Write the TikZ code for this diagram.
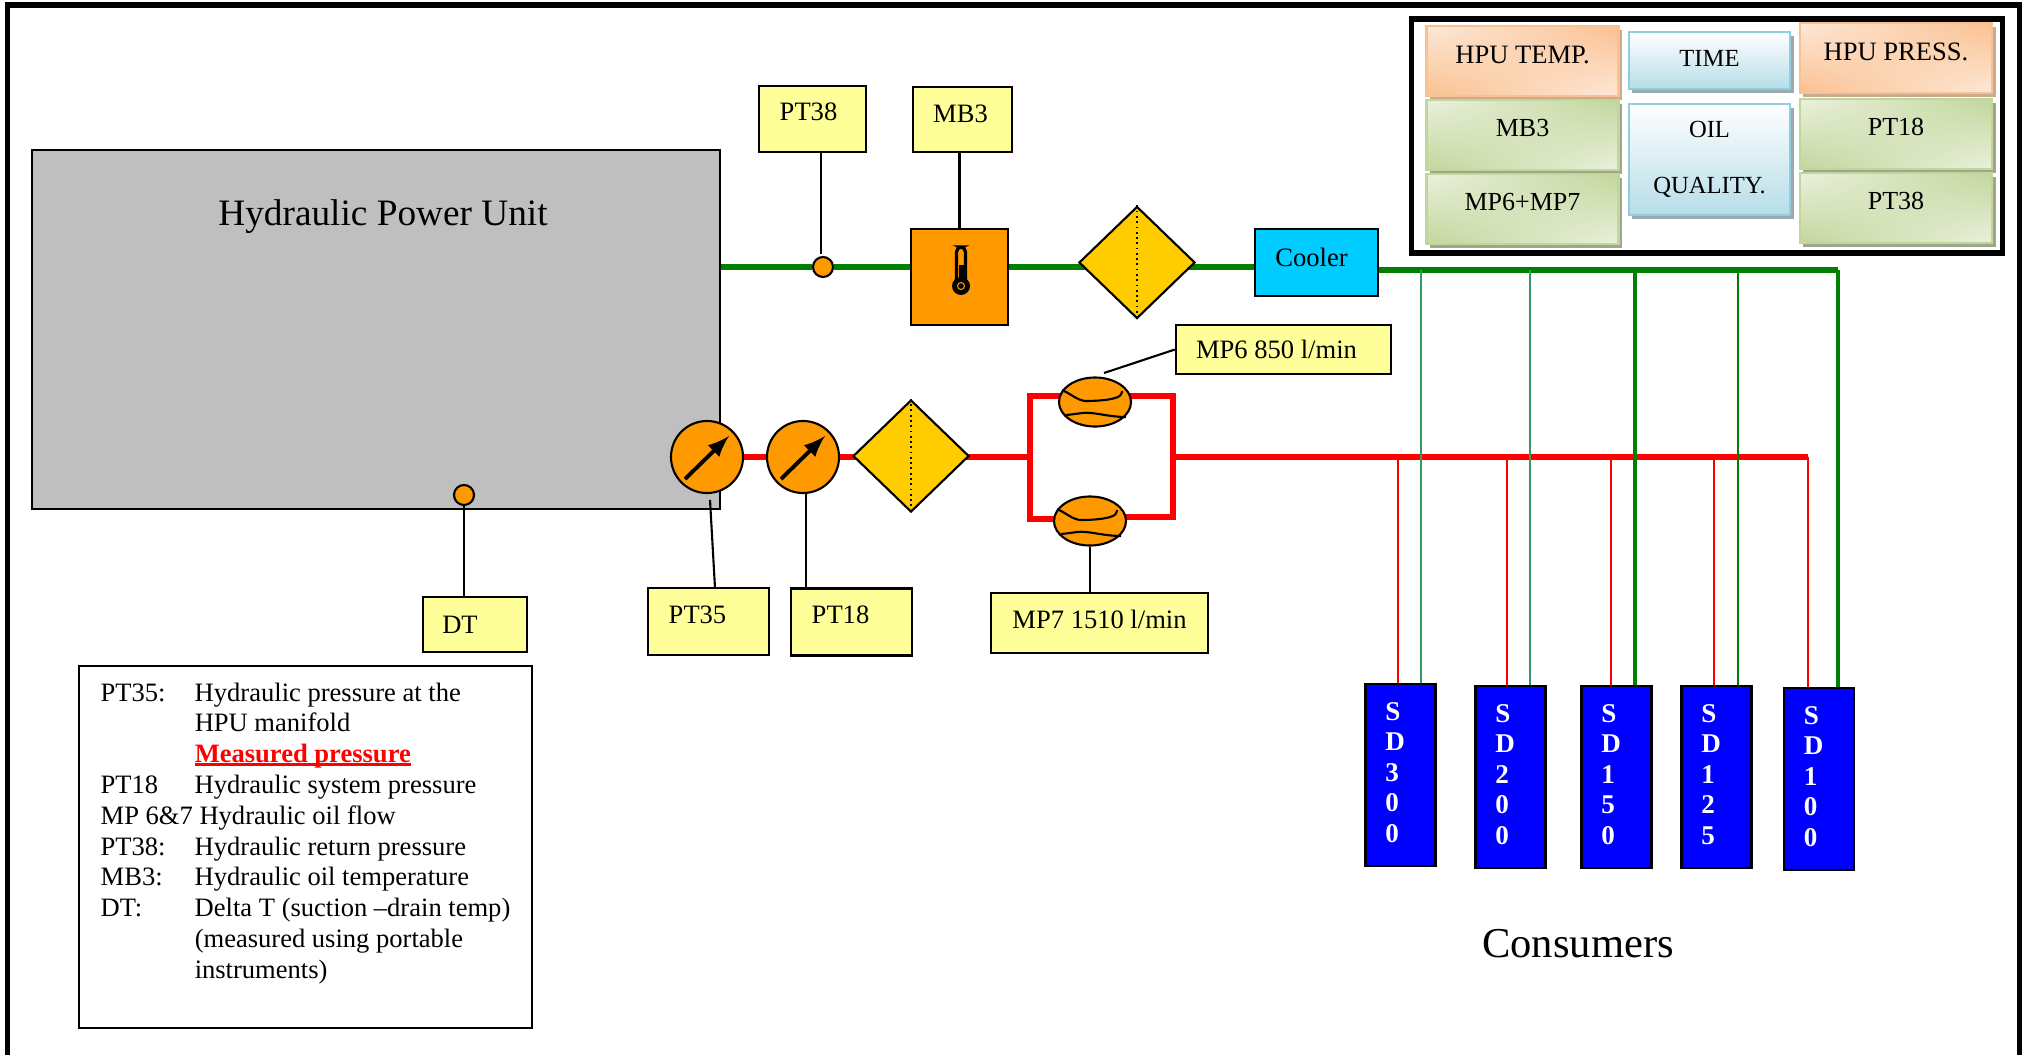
\documentclass[tikz,border=0pt]{standalone}
\usepackage{fontspec}
\setmainfont{Liberation Serif}
\usepackage{xcolor}
\usetikzlibrary{shapes,arrows,positioning,calc,shadows,shadings,backgrounds}

\definecolor{hpugray}{HTML}{BFBFBF}
\definecolor{tagyellow}{HTML}{FFFF99}
\definecolor{gaugeorange}{HTML}{FF9900}
\definecolor{filteryellow}{HTML}{FFCC00}
\definecolor{coolercyan}{HTML}{00CCFF}
\definecolor{pipegreen}{HTML}{008000}
\definecolor{dropgreen}{HTML}{339966}
\definecolor{cellorange}{HTML}{FAC090}
\definecolor{cellorangelt}{HTML}{FDE9D9}
\definecolor{cellgreen}{HTML}{C2D69B}
\definecolor{cellgreenlt}{HTML}{EAF1DD}
\definecolor{cellblue}{HTML}{B6DDE8}
\definecolor{cellblueline}{HTML}{92CDDC}

\newcommand{\legtab}[1]{\makebox[0.94cm][l]{#1}}
\newcommand{\heavyul}[1]{\setbox0\hbox{#1}\rlap{\rule[-0.9pt]{\wd0}{0.8pt}}\box0}
\newcommand{\sdpad}{\rule[-0.05cm]{0pt}{0pt}\hspace*{0.17cm}}

\tikzset{
  every node/.style={font=\fontsize{7.55}{9}\selectfont},
  tagbox/.style={draw, line width=0.6pt, fill=tagyellow, inner sep=0pt},
  sdbox/.style={draw, line width=0.7pt, fill=blue, text=white, inner sep=0pt, minimum width=0.70cm, minimum height=1.82cm, align=left, font=\fontsize{7.7}{8.67}\selectfont\bfseries},
  gaugenode/.style={draw, line width=0.6pt, fill=gaugeorange, ellipse, inner sep=0pt, minimum width=0.72cm, minimum height=0.72cm},
  flownode/.style={draw, line width=0.6pt, fill=gaugeorange, ellipse, inner sep=0pt, minimum width=0.72cm, minimum height=0.49cm},
  filternode/.style={draw, line width=0.6pt, fill=filteryellow, diamond, inner sep=0pt, minimum width=1.16cm, minimum height=1.12cm},
  tapnode/.style={draw, line width=0.6pt, fill=gaugeorange, circle, inner sep=0pt, minimum size=0.20cm},
  greencell/.style={inner sep=0pt, minimum width=1.92cm, minimum height=0.70cm, draw=cellgreen, line width=0.7pt, upper left=cellgreenlt, upper right=cellgreen, lower left=cellgreen, lower right=cellgreenlt, text depth=0.14cm, font=\fontsize{7.4}{9}\selectfont, drop shadow={shadow xshift=0.035cm, shadow yshift=-0.04cm, opacity=1, fill=cellgreen!60!black!70}},
  orangecell/.style={inner sep=0pt, minimum width=1.92cm, minimum height=0.70cm, draw=cellorange, line width=0.7pt, upper left=cellorangelt, upper right=cellorange, lower left=cellorange, lower right=cellorangelt, text depth=0.12cm, drop shadow={shadow xshift=0.035cm, shadow yshift=-0.04cm, opacity=1, fill=cellorange!70!black!70}},
  bluecell/.style={inner sep=0pt, minimum width=1.61cm, draw=cellblueline, line width=0.7pt, top color=white, bottom color=cellblue, align=center, font=\fontsize{7}{9}\selectfont, drop shadow={shadow xshift=0.035cm, shadow yshift=-0.04cm, opacity=1, fill=cellblue!60!black!70}},
  mainpipe/.style={line width=1.6pt},
  droppipe/.style={line width=0.6pt},
  leader/.style={line width=0.6pt}
}

\begin{document}
\begin{tikzpicture}[x=0.01cm, y=-0.01cm]
  \useasboundingbox (0,0) rectangle (2022,1054);

  % Outer frame
  \node[draw, line width=1.6pt, inner sep=0pt, minimum width=20.11cm, minimum height=10.525cm] (frame) at (1013.5,531.75) {};

  % Hydraulic Power Unit
  \node[draw, line width=0.6pt, fill=hpugray, inner sep=0pt, minimum width=6.88cm, minimum height=3.59cm, text depth=2.34cm, font=\fontsize{10.6}{12}\selectfont] (hpu) at (376,329.5) {\hspace*{0.14cm}Hydraulic Power Unit};
  \node[tapnode] (dttap) at (464,495) {};

  % Return line
  \node[tapnode] (pt38tap) at (823,267) {};
  \node[draw, line width=0.7pt, fill=gaugeorange, inner sep=0pt, minimum width=0.97cm, minimum height=0.96cm] (thermo) at (959.5,277) {};
  \draw[line width=0.9pt, rounded corners=0.05cm] (956.5,282) -- (956.5,247) -- (965.5,247) -- (965.5,282);
  \fill (958.5,265) rectangle (963.5,285);
  \fill (961,286) circle (9);
  \draw[gaugeorange, line width=0.3pt] (961,286) circle (3.5);
  \node[filternode] (filtret) at (1137,262.5) {};
  \draw[densely dotted, line width=0.5pt] (filtret.north) -- (filtret.south);
  \node[draw, line width=0.6pt, fill=coolercyan, inner sep=0pt, minimum width=1.23cm, minimum height=0.67cm, text depth=0.10cm] (cooler) at (1316.5,262.5) {Cooler\hspace*{0.10cm}};

  % Pressure line
  \node[gaugenode] (g35) at (707,457) {};
  \node[gaugenode] (g18) at (803,457) {};
  \draw[-latex, line width=1.1pt] ($(g35)+(-22,22)$) -- ($(g35)+(22,-21)$);
  \draw[-latex, line width=1.1pt] ($(g18)+(-22,22)$) -- ($(g18)+(22,-21)$);
  \node[filternode] (filtpress) at (911,456) {};
  \draw[densely dotted, line width=0.5pt] (filtpress.north) -- (filtpress.south);

  % Flow meters
  \node[flownode] (mpa) at (1095,402) {};
  \node[flownode] (mpb) at (1090,521) {};
  \draw[line width=0.6pt] ($(mpa)+(-33,-12)$) .. controls ($(mpa)+(-24,-8)$) and ($(mpa)+(-18,-2)$) .. ($(mpa)+(-10,-1)$) .. controls ($(mpa)+(2,-1)$) and ($(mpa)+(14,-2)$) .. ($(mpa)+(20,-4)$) .. controls ($(mpa)+(25,-5)$) and ($(mpa)+(27,-8)$) .. ($(mpa)+(27,-11)$);
  \draw[line width=0.6pt] ($(mpa)+(-29,13)$) .. controls ($(mpa)+(-18,12)$) and ($(mpa)+(-10,10)$) .. ($(mpa)+(-4,11)$) .. controls ($(mpa)+(6,12)$) and ($(mpa)+(18,15)$) .. ($(mpa)+(31,15)$);
  \draw[line width=0.6pt] ($(mpb)+(-33,-12)$) .. controls ($(mpb)+(-24,-8)$) and ($(mpb)+(-18,-2)$) .. ($(mpb)+(-10,-1)$) .. controls ($(mpb)+(2,-1)$) and ($(mpb)+(14,-2)$) .. ($(mpb)+(20,-4)$) .. controls ($(mpb)+(25,-5)$) and ($(mpb)+(27,-8)$) .. ($(mpb)+(27,-11)$);
  \draw[line width=0.6pt] ($(mpb)+(-29,13)$) .. controls ($(mpb)+(-18,12)$) and ($(mpb)+(-10,10)$) .. ($(mpb)+(-4,11)$) .. controls ($(mpb)+(6,12)$) and ($(mpb)+(18,15)$) .. ($(mpb)+(31,15)$);

  % Tags
  \node[tagbox, minimum width=1.07cm, minimum height=0.66cm, text depth=0.14cm] (pt38) at (812.5,119) {PT38\hspace*{0.08cm}};
  \node[tagbox, minimum width=0.99cm, minimum height=0.65cm, text depth=0.12cm] (mb3) at (962.5,119.5) {MB3\hspace*{0.04cm}};
  \node[tagbox, minimum width=2.15cm, minimum height=0.49cm] (mp6) at (1283.5,349.5) {MP6 850 l/min\hspace*{0.14cm}};
  \node[tagbox, minimum width=1.04cm, minimum height=0.55cm] (dt) at (475,624.5) {DT\hspace*{0.30cm}};
  \node[tagbox, minimum width=1.21cm, minimum height=0.67cm, text depth=0.14cm] (pt35) at (708.5,621.5) {PT35\hspace*{0.22cm}};
  \node[tagbox, minimum width=1.21cm, minimum height=0.67cm, text depth=0.14cm] (pt18) at (851.5,622) {PT18\hspace*{0.22cm}};
  \node[tagbox, minimum width=2.17cm, minimum height=0.60cm, text depth=0.08cm] (mp7) at (1099.5,623) {MP7 1510 l/min};

  % Consumers
  \node[sdbox] (sd300) at (1400.5,775) {S\\D\\3\\0\\0\sdpad};
  \node[sdbox] (sd200) at (1510.5,777) {S\\D\\2\\0\\0\sdpad};
  \node[sdbox] (sd150) at (1616.5,777) {S\\D\\1\\5\\0\sdpad};
  \node[sdbox] (sd125) at (1716.5,777) {S\\D\\1\\2\\5\sdpad};
  \node[sdbox] (sd100) at (1819,779) {S\\D\\1\\0\\0\sdpad};
  \node[font=\fontsize{12.1}{14}\selectfont] (consumers) at (1578,944) {Consumers};

  % Pipe junctions
  \coordinate (gout) at (1838,270);
  \coordinate (g300) at (1421,270);
  \coordinate (g200) at (1530,270);
  \coordinate (g150) at (1635,270);
  \coordinate (g125) at (1738,270);
  \coordinate (ltop) at (1030,396);
  \coordinate (lbot) at (1030,519);
  \coordinate (rtop) at (1173,396);
  \coordinate (rbot) at (1173,517);
  \coordinate (lmid) at (1030,457);
  \coordinate (rmid) at (1173,457);
  \coordinate (rout) at (1808,457);
  \coordinate (r300) at (1398,457);
  \coordinate (r200) at (1507,457);
  \coordinate (r150) at (1611,457);
  \coordinate (r125) at (1714,457);

  % Pipes
  \begin{scope}[on background layer]
    \draw[mainpipe, pipegreen] (hpu.east |- pt38tap) -- (pt38tap) -- (thermo.west |- pt38tap);
    \draw[mainpipe, pipegreen] (thermo.east |- pt38tap) -- (filtret |- pt38tap) -- (cooler.west |- pt38tap);
    \draw[mainpipe, pipegreen] (cooler.east |- gout) -- (gout);
    \draw[mainpipe, red] (g35) -- (g18);
    \draw[mainpipe, red] (g18) -- (filtpress |- g18);
    \draw[mainpipe, red] (filtpress |- lmid) -- (lmid);
    \draw[mainpipe, red] (mpa |- ltop) -- (ltop) -- (lbot) -- (mpb |- lbot);
    \draw[mainpipe, red] (mpa |- rtop) -- (rtop) -- (rbot) -- (mpb |- rbot);
    \draw[mainpipe, red] (rmid) -- (rout);
    \draw[droppipe, red] (r300) -- (r300 |- sd300.north);
    \draw[droppipe, red] (r200) -- (r200 |- sd200.north);
    \draw[droppipe, red] (r150) -- (r150 |- sd150.north);
    \draw[droppipe, red] (r125) -- (r125 |- sd125.north);
    \draw[droppipe, red] (rout) -- (rout |- sd100.north);
    \draw[line width=0.75pt, dropgreen] (g300) -- (g300 |- sd300.north);
    \draw[line width=0.75pt, dropgreen] (g200) -- (g200 |- sd200.north);
    \draw[line width=0.9pt, pipegreen] (g150) -- (g150 |- sd150.north);
    \draw[droppipe, pipegreen] (g125) -- (g125 |- sd125.north);
    \draw[line width=0.9pt, pipegreen] (gout) -- (gout |- sd100.north);
  \end{scope}

  % Leaders
  \draw[leader] (pt38.south -| 821,0) -- (821,254);
  \draw[leader] (mb3.south -| thermo) -- (thermo.north);
  \draw[leader] (1104,373) -- (mp6.west);
  \draw[leader] (dttap) -- (dttap |- dt.north);
  \draw[leader] (710,500) -- (715,588);
  \draw[leader] (g18.south -| 806,0) -- (pt18.north -| 806,0);
  \draw[leader] (mpb.south) -- (mpb.south |- mp7.north);

  % Trend display
  \node[draw, line width=1.5pt, inner sep=0pt, minimum width=5.90cm, minimum height=2.34cm] (display) at (1707,136) {};
  \node[orangecell] (hputemp) at (1522.5,61) {HPU TEMP.};
  \node[greencell] (dispmb) at (1522.5,135) {MB3};
  \node[greencell] (dispmp) at (1522.5,209) {MP6+MP7};
  \node[bluecell, minimum height=0.57cm, text depth=0.05cm] (disptime) at (1709.5,60.5) {TIME};
  \node[bluecell, minimum height=1.11cm] (dispoil) at (1709.5,159.5) {OIL\\[0.25cm]QUALITY.};
  \node[orangecell] (hpupress) at (1896,58) {HPU PRESS.};
  \node[greencell] (dispt18) at (1896,134) {PT18};
  \node[greencell] (dispt38) at (1896,208) {PT38};

  % Legend
  \node[draw, line width=0.6pt, inner sep=0pt, minimum width=4.52cm, minimum height=3.62cm] (legend) at (305.5,847) {};
  \node[anchor=north west, inner sep=0pt, align=left, font=\fontsize{7.55}{8.76}\selectfont] (legendtext) at (100,682) {\legtab{PT35:}Hydraulic pressure at the\\
    \legtab{}HPU manifold\\
    \legtab{}{\color{red}\heavyul{\textbf{Measured pressure}}}\\
    \legtab{PT18}Hydraulic system pressure\\
    MP 6\&7 Hydraulic oil flow\\
    \legtab{PT38:}Hydraulic return pressure\\
    \legtab{MB3:}Hydraulic oil temperature\\
    \legtab{DT:}Delta T (suction –drain temp)\\
    \legtab{}(measured using portable\\
    \legtab{}instruments)};
\end{tikzpicture}
\end{document}
